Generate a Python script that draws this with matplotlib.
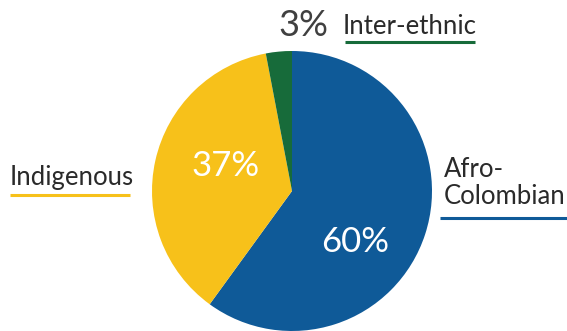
import matplotlib
matplotlib.use("Agg")
import matplotlib.pyplot as plt

# ---------------------------------------------------------------
#   data
# ---------------------------------------------------------------
groups  = ['Afro-\nColombian', 'Indigenous', 'Inter-ethnic']
shares  = [60, 37, 3]
colors  = ['#0F5A98', '#F7C11A', '#176B3A']

plt.rcParams['font.family'] = ['Lato', 'DejaVu Sans']

W, H = 567, 331
fig = plt.figure(figsize=(W / 100, H / 100), dpi=100)
ax = fig.add_axes([0, 0, 1, 1])

# pie (center and radius in pixel units of this axes)
cx, cy, r = 292, H - 191, 140
wedges, _ = ax.pie(shares, colors=colors, startangle=90, counterclock=False,
                   center=(cx, cy), radius=r, frame=True,
                   wedgeprops={'linewidth': 0})
ax.set_xlim(0, W)
ax.set_ylim(0, H)
ax.set_aspect('equal')
ax.axis('off')

text_col = '#2a2a2a'

# inner percentages
ax.text(226, H - 166, f'{shares[1]}%', color='white', fontsize=25,
        ha='center', va='center')
ax.text(355, H - 242, f'{shares[0]}%', color='white', fontsize=25,
        ha='center', va='center')

# small slice percentage outside
ax.text(303, H - 26, f'{shares[2]}%', color='#404040', fontsize=26,
        ha='center', va='center')

# labels with underlines in slice colours
ax.text(343, H - 26, groups[2], color=text_col, fontsize=18.5, ha='left', va='center')
ax.plot([345, 475], [H - 42, H - 42], color=colors[2], lw=2.2, solid_capstyle='butt')

ax.text(10, H - 177, groups[1], color=text_col, fontsize=18.5, ha='left', va='center')
ax.plot([10, 130], [H - 195, H - 195], color=colors[1], lw=2.2, solid_capstyle='butt')

ax.text(444, H - 183, groups[0], color=text_col, fontsize=18.5, ha='left', va='center',
        linespacing=1.1)
ax.plot([440, 567], [H - 218, H - 218], color=colors[0], lw=2.2, solid_capstyle='butt')

fig.savefig('out.png', dpi=100)
